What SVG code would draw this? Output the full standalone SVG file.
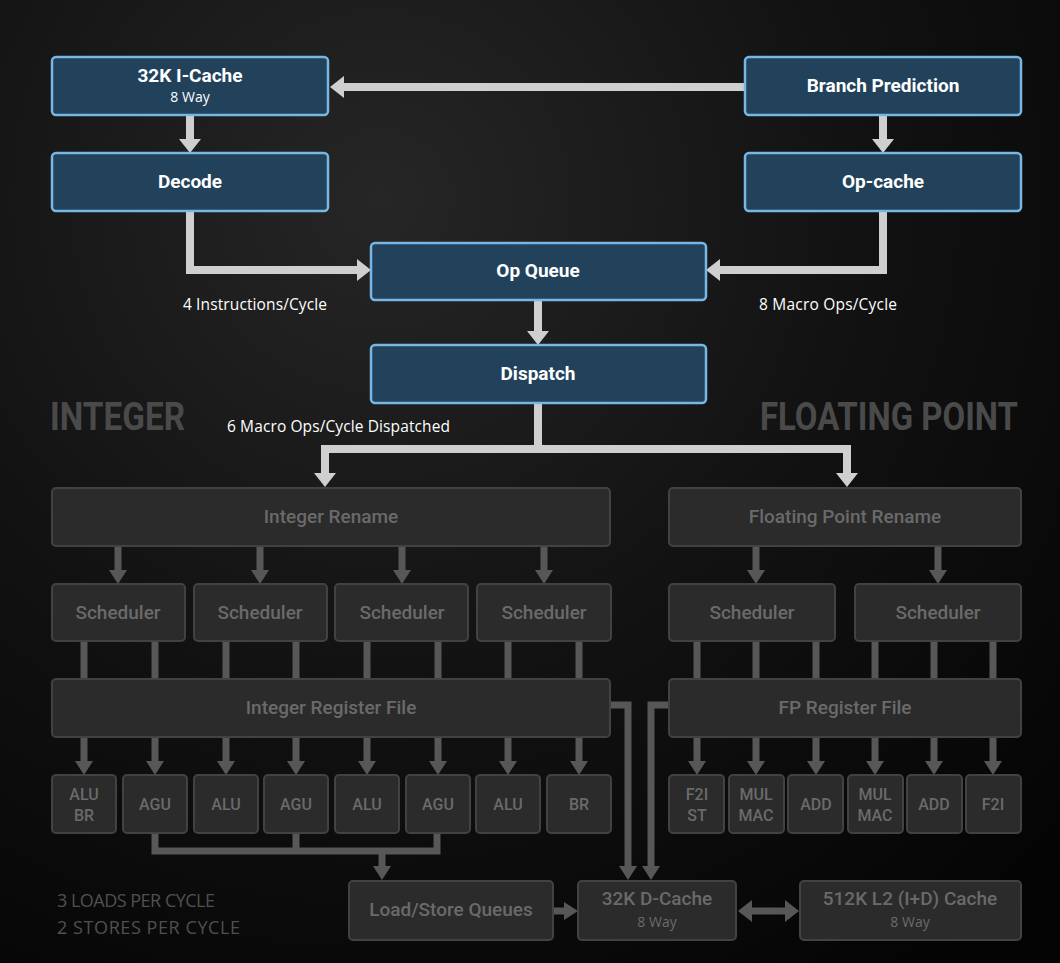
<svg xmlns="http://www.w3.org/2000/svg" width="1060" height="963" viewBox="0 0 1060 963">
  <defs>
    <radialGradient id="bg" cx="380" cy="200" r="950" gradientUnits="userSpaceOnUse">
      <stop offset="0" stop-color="#262626"/>
      <stop offset="0.5" stop-color="#121212"/>
      <stop offset="1" stop-color="#040404"/>
    </radialGradient>
    <marker id="ahL" viewBox="0 0 14 22" refX="0" refY="11" markerWidth="14" markerHeight="22" markerUnits="userSpaceOnUse" orient="auto">
      <path d="M0,0 L14,11 L0,22 z" fill="#cfcfcf"/>
    </marker>
    <marker id="ahG" viewBox="0 0 14 18" refX="0" refY="9" markerWidth="14" markerHeight="18" markerUnits="userSpaceOnUse" orient="auto">
      <path d="M0,0 L14,9 L0,18 z" fill="#575757"/>
    </marker>
    <marker id="ahD" viewBox="0 0 14 22" refX="0" refY="11" markerWidth="14" markerHeight="22" markerUnits="userSpaceOnUse" orient="auto-start-reverse">
      <path d="M0,0 L14,11 L0,22 z" fill="#575757"/>
    </marker>
    <style>
      .blue{fill:#22425c;stroke:#78b6e4;stroke-width:2.5}
      .gray{fill:#2b2b2b;stroke:#424242;stroke-width:2}
      .bt{font-family:Roboto,"Liberation Sans",sans-serif;font-weight:bold;font-size:19px;fill:#ffffff;text-anchor:middle}
      .bs{font-family:"Open Sans","Liberation Sans",sans-serif;font-size:14px;fill:#ffffff;text-anchor:middle}
      .gt{font-family:Roboto,"Liberation Sans",sans-serif;font-weight:500;font-size:19px;fill:#6a6a6a;text-anchor:middle}
      .gu{font-family:Roboto,"Liberation Sans",sans-serif;font-weight:500;font-size:16px;fill:#6a6a6a;text-anchor:middle}
      .gs{font-family:"Open Sans","Liberation Sans",sans-serif;font-size:14px;fill:#6a6a6a;text-anchor:middle}
      .lbl{font-family:"Open Sans","Liberation Sans",sans-serif;font-size:15.5px;fill:#ffffff}
      .sec{font-family:Roboto,"Liberation Sans",sans-serif;font-weight:bold;font-size:38px;fill:#4a4a4a}
      .note{font-family:"Open Sans","Liberation Sans",sans-serif;font-size:18px;fill:#505050}
      .cl{fill:none;stroke:#cfcfcf;stroke-width:8}
      .cg{fill:none;stroke:#575757;stroke-width:7}
    </style>
  </defs>
  <rect x="0" y="0" width="1060" height="963" fill="url(#bg)"/>

  <text class="sec" x="50" y="430" textLength="135" lengthAdjust="spacingAndGlyphs">INTEGER</text>
  <text class="sec" x="760" y="430" textLength="258" lengthAdjust="spacingAndGlyphs">FLOATING POINT</text>
  <text class="lbl" x="183" y="310" textLength="144">4 Instructions/Cycle</text>
  <text class="lbl" x="759" y="310" textLength="138">8 Macro Ops/Cycle</text>
  <text class="lbl" x="227" y="432" textLength="223">6 Macro Ops/Cycle Dispatched</text>
  <text class="note" x="57" y="907" textLength="158">3 LOADS PER CYCLE</text>
  <text class="note" x="57" y="934" textLength="183">2 STORES PER CYCLE</text>

  <g id="connectors">
    <path class="cl" d="M745,87 H344" marker-end="url(#ahL)"/>
    <path class="cl" d="M190,116 V139" marker-end="url(#ahL)"/>
    <path class="cl" d="M190,212 V270 H357" marker-end="url(#ahL)"/>
    <path class="cl" d="M883,116 V139" marker-end="url(#ahL)"/>
    <path class="cl" d="M883,212 V270 H720" marker-end="url(#ahL)"/>
    <path class="cl" d="M538,301 V331" marker-end="url(#ahL)"/>
    <path class="cl" d="M538,404 V449 H325 V473" marker-end="url(#ahL)"/>
    <path class="cl" d="M538,449 H847 V473" marker-end="url(#ahL)"/>

    <path class="cg" d="M118,547 V570" marker-end="url(#ahG)"/>
    <path class="cg" d="M260,547 V570" marker-end="url(#ahG)"/>
    <path class="cg" d="M402,547 V570" marker-end="url(#ahG)"/>
    <path class="cg" d="M544,547 V570" marker-end="url(#ahG)"/>
    <path class="cg" d="M756,547 V570" marker-end="url(#ahG)"/>
    <path class="cg" d="M938,547 V570" marker-end="url(#ahG)"/>

    <path class="cg" d="M84,642 V679 M155,642 V679 M226,642 V679 M296,642 V679 M367,642 V679 M438,642 V679 M508,642 V679 M579,642 V679"/>
    <path class="cg" d="M697,642 V679 M756,642 V679 M816,642 V679 M875,642 V679 M934,642 V679 M993,642 V679"/>

    <path class="cg" d="M84,738 V761" marker-end="url(#ahG)"/>
    <path class="cg" d="M155,738 V761" marker-end="url(#ahG)"/>
    <path class="cg" d="M226,738 V761" marker-end="url(#ahG)"/>
    <path class="cg" d="M296,738 V761" marker-end="url(#ahG)"/>
    <path class="cg" d="M367,738 V761" marker-end="url(#ahG)"/>
    <path class="cg" d="M438,738 V761" marker-end="url(#ahG)"/>
    <path class="cg" d="M508,738 V761" marker-end="url(#ahG)"/>
    <path class="cg" d="M579,738 V761" marker-end="url(#ahG)"/>
    <path class="cg" d="M697,738 V761" marker-end="url(#ahG)"/>
    <path class="cg" d="M756,738 V761" marker-end="url(#ahG)"/>
    <path class="cg" d="M816,738 V761" marker-end="url(#ahG)"/>
    <path class="cg" d="M875,738 V761" marker-end="url(#ahG)"/>
    <path class="cg" d="M934,738 V761" marker-end="url(#ahG)"/>
    <path class="cg" d="M993,738 V761" marker-end="url(#ahG)"/>

    <path class="cg" d="M611,705 H628 V866" marker-end="url(#ahG)"/>
    <path class="cg" d="M668,705 H651 V866" marker-end="url(#ahG)"/>

    <path class="cg" d="M155,834 V851 H437 V834 M296,834 V851"/>
    <path class="cg" d="M382,851 V866" marker-end="url(#ahG)"/>
    <path class="cg" d="M554,911 H564" marker-end="url(#ahG)"/>
    <path class="cg" stroke-width="9" d="M752,911 H785" marker-start="url(#ahD)" marker-end="url(#ahD)"/>
  </g>

  <g id="icache"><rect class="blue" x="52" y="57" width="276" height="58" rx="4"/><text class="bt" x="190" y="82">32K I-Cache</text><text class="bs" x="190" y="102">8 Way</text></g>
  <g id="decode"><rect class="blue" x="52" y="153" width="276" height="58" rx="4"/><text class="bt" x="190" y="188">Decode</text></g>
  <g id="branch"><rect class="blue" x="745" y="57" width="276" height="58" rx="4"/><text class="bt" x="883" y="92">Branch Prediction</text></g>
  <g id="opcache"><rect class="blue" x="745" y="153" width="276" height="58" rx="4"/><text class="bt" x="883" y="188">Op-cache</text></g>
  <g id="opqueue"><rect class="blue" x="371" y="243" width="335" height="57" rx="4"/><text class="bt" x="538" y="277">Op Queue</text></g>
  <g id="dispatch"><rect class="blue" x="371" y="345" width="335" height="58" rx="4"/><text class="bt" x="538" y="380">Dispatch</text></g>

  <g id="int-rename"><rect class="gray" x="52" y="488" width="558" height="58" rx="4"/><text class="gt" x="331" y="523">Integer Rename</text></g>
  <g id="fp-rename"><rect class="gray" x="669" y="488" width="352" height="58" rx="4"/><text class="gt" x="845" y="523">Floating Point Rename</text></g>

  <g id="int-sched-1"><rect class="gray" x="52" y="584" width="133" height="57" rx="4"/><text class="gt" x="118" y="619">Scheduler</text></g>
  <g id="int-sched-2"><rect class="gray" x="194" y="584" width="133" height="57" rx="4"/><text class="gt" x="260" y="619">Scheduler</text></g>
  <g id="int-sched-3"><rect class="gray" x="335" y="584" width="133" height="57" rx="4"/><text class="gt" x="402" y="619">Scheduler</text></g>
  <g id="int-sched-4"><rect class="gray" x="477" y="584" width="134" height="57" rx="4"/><text class="gt" x="544" y="619">Scheduler</text></g>
  <g id="fp-sched-1"><rect class="gray" x="669" y="584" width="166" height="57" rx="4"/><text class="gt" x="752" y="619">Scheduler</text></g>
  <g id="fp-sched-2"><rect class="gray" x="855" y="584" width="166" height="57" rx="4"/><text class="gt" x="938" y="619">Scheduler</text></g>

  <g id="int-rf"><rect class="gray" x="52" y="679" width="558" height="58" rx="4"/><text class="gt" x="331" y="714">Integer Register File</text></g>
  <g id="fp-rf"><rect class="gray" x="669" y="679" width="352" height="58" rx="4"/><text class="gt" x="845" y="714">FP Register File</text></g>

  <g id="u-alubr"><rect class="gray" x="52" y="775" width="64" height="58" rx="4"/><text class="gu" x="84" y="800">ALU</text><text class="gu" x="84" y="821">BR</text></g>
  <g id="u-agu1"><rect class="gray" x="123" y="775" width="64" height="58" rx="4"/><text class="gu" x="155" y="810">AGU</text></g>
  <g id="u-alu1"><rect class="gray" x="194" y="775" width="64" height="58" rx="4"/><text class="gu" x="226" y="810">ALU</text></g>
  <g id="u-agu2"><rect class="gray" x="264" y="775" width="64" height="58" rx="4"/><text class="gu" x="296" y="810">AGU</text></g>
  <g id="u-alu2"><rect class="gray" x="335" y="775" width="64" height="58" rx="4"/><text class="gu" x="367" y="810">ALU</text></g>
  <g id="u-agu3"><rect class="gray" x="406" y="775" width="64" height="58" rx="4"/><text class="gu" x="438" y="810">AGU</text></g>
  <g id="u-alu3"><rect class="gray" x="476" y="775" width="64" height="58" rx="4"/><text class="gu" x="508" y="810">ALU</text></g>
  <g id="u-br"><rect class="gray" x="547" y="775" width="64" height="58" rx="4"/><text class="gu" x="579" y="810">BR</text></g>

  <g id="f-f2ist"><rect class="gray" x="669" y="775" width="55" height="58" rx="4"/><text class="gu" x="697" y="800">F2I</text><text class="gu" x="697" y="821">ST</text></g>
  <g id="f-mulmac1"><rect class="gray" x="729" y="775" width="55" height="58" rx="4"/><text class="gu" x="756" y="800">MUL</text><text class="gu" x="756" y="821">MAC</text></g>
  <g id="f-add1"><rect class="gray" x="788" y="775" width="55" height="58" rx="4"/><text class="gu" x="816" y="810">ADD</text></g>
  <g id="f-mulmac2"><rect class="gray" x="848" y="775" width="55" height="58" rx="4"/><text class="gu" x="875" y="800">MUL</text><text class="gu" x="875" y="821">MAC</text></g>
  <g id="f-add2"><rect class="gray" x="907" y="775" width="55" height="58" rx="4"/><text class="gu" x="934" y="810">ADD</text></g>
  <g id="f-f2i"><rect class="gray" x="966" y="775" width="55" height="58" rx="4"/><text class="gu" x="993" y="810">F2I</text></g>

  <g id="lsq"><rect class="gray" x="349" y="881" width="204" height="59" rx="4"/><text class="gt" x="451" y="916">Load/Store Queues</text></g>
  <g id="dcache"><rect class="gray" x="578" y="881" width="158" height="59" rx="4"/><text class="gt" x="657" y="905">32K D-Cache</text><text class="gs" x="657" y="927">8 Way</text></g>
  <g id="l2"><rect class="gray" x="800" y="881" width="221" height="59" rx="4"/><text class="gt" x="910" y="905">512K L2 (I+D) Cache</text><text class="gs" x="910" y="927">8 Way</text></g>
</svg>
